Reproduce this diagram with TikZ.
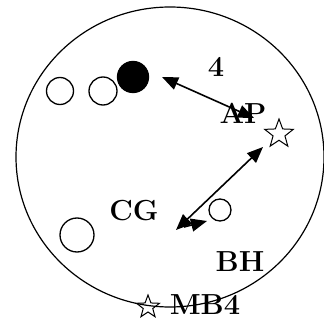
\documentclass[tikz,border=0pt]{standalone}
\usepackage{fontspec}
\usepackage{tikz}
\usetikzlibrary{arrows.meta,shapes.geometric,positioning,calc}

\begin{document}
\begin{tikzpicture}[x=1pt, y=-1pt,
    hole/.style={draw, circle, line width=1.3pt, inner sep=0pt},
    filled/.style={hole, fill=black},
    starmark/.style={draw, star, star points=5, star point ratio=2.4, line width=1pt, inner sep=0pt},
    lbl/.style={font=\bfseries\fontsize{29}{33}\selectfont, inner sep=0pt},
    arrow/.style={{Triangle[length=16pt,width=13pt]}-{Triangle[length=16pt,width=13pt]}, line width=1.6pt},
    onearrow/.style={-{Triangle[length=16pt,width=13pt]}, line width=1.6pt}
]
\useasboundingbox (0,0) rectangle (324,323);

% Outer boundary
\draw[line width=1.2pt] (170,157) ellipse [x radius=154, y radius=150];

% Small circles
\node[hole, minimum size=27pt] (c1) at (60,91) {};
\node[hole, minimum size=28pt] (c2) at (103,91) {};
\node[filled, minimum size=31pt] (c3) at (133,77) {};
\node[hole, minimum size=34pt] (c4) at (77,235) {};
\node[hole, minimum size=22pt] (c5) at (220,210) {};

% Stars
\node[starmark, minimum size=30pt] (s1) at (279,134) {};
\node[starmark, minimum size=24pt] (s2) at (148,307) {};

% Labels
\node[lbl] (four) at (216,67) {4};
\node[lbl] (ap) at (243,113) {AP};
\node[lbl] (cg) at (134,211) {CG};
\node[lbl] (bh) at (240,262) {BH};
\node[lbl] (mb) at (205,305) {MB4};

% Arrow ends
\coordinate (apend) at (254,118);
\coordinate (hit) at (162,77);
\coordinate (starend) at (263,147);
\coordinate (cgend) at (176,230);
\coordinate (bhstart) at (184,227);
\coordinate (bhend) at (207,221);

% Arrows
\draw[arrow] (apend) -- (hit);
\draw[arrow] (starend) -- (cgend);
\draw[onearrow] (bhstart) -- (bhend);

\end{tikzpicture}
\end{document}
